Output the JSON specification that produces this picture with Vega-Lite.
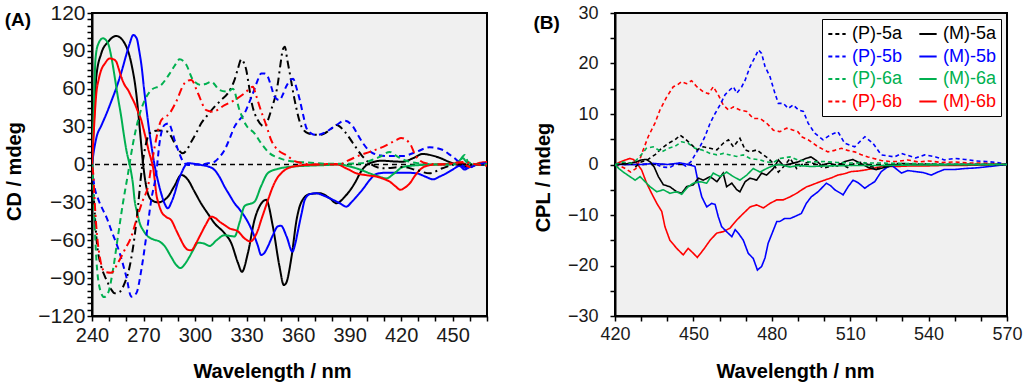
{
"$schema": "https://vega.github.io/schema/vega-lite/v6.json",
"background": "white",
"padding": {"left": 3, "top": 1, "right": 0, "bottom": 0},
"spacing": 43,
"config": {
  "font": "Liberation Sans",
  "view": {"fill": "#f0f0f0", "stroke": "black", "strokeWidth": 2},
  "axis": {"labelFont": "Liberation Sans", "labelFontSize": 19, "labelColor": "#1a1a1a", "titleFont": "Liberation Sans", "titleFontSize": 20, "titleFontWeight": "bold", "titleColor": "black", "domainColor": "black", "domainWidth": 2, "tickColor": "black", "tickWidth": 1.5, "tickSize": 5, "grid": false, "labelFlush": false, "labelOverlap": false},
  "axisY": {"labelOverlap": false},
  "axisQuantitative": {"labelOverlap": false},
  "legend": {"labelFont": "Liberation Sans"}
},
"datasets": {
"cd": [
{"s":"(M)-5a","x":240,"y":0},{"s":"(M)-5a","x":241,"y":30},{"s":"(M)-5a","x":242.5,"y":69.5},{"s":"(M)-5a","x":245.4,"y":88},{"s":"(M)-5a","x":249.3,"y":97},{"s":"(M)-5a","x":254.1,"y":101.8},{"s":"(M)-5a","x":259,"y":96},{"s":"(M)-5a","x":262.9,"y":80},{"s":"(M)-5a","x":265.8,"y":56},{"s":"(M)-5a","x":267.7,"y":30},{"s":"(M)-5a","x":269.7,"y":1},{"s":"(M)-5a","x":271.6,"y":-17.6},{"s":"(M)-5a","x":274.5,"y":-28},{"s":"(M)-5a","x":278.4,"y":-30},{"s":"(M)-5a","x":284.2,"y":-25.5},{"s":"(M)-5a","x":288,"y":-17},{"s":"(M)-5a","x":292,"y":-8.3},{"s":"(M)-5a","x":295.8,"y":-12},{"s":"(M)-5a","x":299.5,"y":-21},{"s":"(M)-5a","x":303.6,"y":-31},{"s":"(M)-5a","x":307.5,"y":-39},{"s":"(M)-5a","x":311.4,"y":-46.6},{"s":"(M)-5a","x":317.2,"y":-54.5},{"s":"(M)-5a","x":321,"y":-62},{"s":"(M)-5a","x":325,"y":-78},{"s":"(M)-5a","x":327.3,"y":-85},{"s":"(M)-5a","x":330.8,"y":-70},{"s":"(M)-5a","x":334.6,"y":-44},{"s":"(M)-5a","x":338.5,"y":-31},{"s":"(M)-5a","x":341.4,"y":-28},{"s":"(M)-5a","x":345.3,"y":-49},{"s":"(M)-5a","x":349.2,"y":-81},{"s":"(M)-5a","x":351.7,"y":-95.5},{"s":"(M)-5a","x":353,"y":-94},{"s":"(M)-5a","x":356.2,"y":-73},{"s":"(M)-5a","x":359.1,"y":-44},{"s":"(M)-5a","x":362,"y":-29.5},{"s":"(M)-5a","x":366.8,"y":-23.4},{"s":"(M)-5a","x":372.6,"y":-22.8},{"s":"(M)-5a","x":378.5,"y":-26.8},{"s":"(M)-5a","x":382.3,"y":-30.7},{"s":"(M)-5a","x":387.2,"y":-25.5},{"s":"(M)-5a","x":394,"y":-12.3},{"s":"(M)-5a","x":396,"y":-7},{"s":"(M)-5a","x":401.7,"y":1},{"s":"(M)-5a","x":409,"y":3},{"s":"(M)-5a","x":415,"y":2.5},{"s":"(M)-5a","x":421,"y":2.2},{"s":"(M)-5a","x":427,"y":5},{"s":"(M)-5a","x":432.5,"y":8.3},{"s":"(M)-5a","x":440.5,"y":6.2},{"s":"(M)-5a","x":450,"y":1},{"s":"(M)-5a","x":458,"y":-1.7},{"s":"(M)-5a","x":464,"y":0},{"s":"(M)-5a","x":470,"y":0},
{"s":"(M)-5b","x":240,"y":0},{"s":"(M)-5b","x":241,"y":10},{"s":"(M)-5b","x":242.7,"y":22},{"s":"(M)-5b","x":245.5,"y":31},{"s":"(M)-5b","x":248.5,"y":40.5},{"s":"(M)-5b","x":251.5,"y":51},{"s":"(M)-5b","x":254.4,"y":61.6},{"s":"(M)-5b","x":257.3,"y":74},{"s":"(M)-5b","x":260.2,"y":88},{"s":"(M)-5b","x":262,"y":96},{"s":"(M)-5b","x":264,"y":102.6},{"s":"(M)-5b","x":266,"y":100},{"s":"(M)-5b","x":267.5,"y":90},{"s":"(M)-5b","x":268.9,"y":77.5},{"s":"(M)-5b","x":270.3,"y":60},{"s":"(M)-5b","x":271.8,"y":43},{"s":"(M)-5b","x":273.2,"y":28},{"s":"(M)-5b","x":274.7,"y":14},{"s":"(M)-5b","x":276.6,"y":-1.7},{"s":"(M)-5b","x":278.4,"y":-13},{"s":"(M)-5b","x":280.3,"y":-23},{"s":"(M)-5b","x":282.3,"y":-31},{"s":"(M)-5b","x":284.2,"y":-34.7},{"s":"(M)-5b","x":286.2,"y":-30},{"s":"(M)-5b","x":288.1,"y":-23},{"s":"(M)-5b","x":290,"y":-14},{"s":"(M)-5b","x":292,"y":-7},{"s":"(M)-5b","x":295.8,"y":1},{"s":"(M)-5b","x":299.7,"y":0.5},{"s":"(M)-5b","x":303.6,"y":-0.4},{"s":"(M)-5b","x":307.5,"y":-1.5},{"s":"(M)-5b","x":311.4,"y":-4.4},{"s":"(M)-5b","x":314.3,"y":-10},{"s":"(M)-5b","x":317.2,"y":-17.6},{"s":"(M)-5b","x":320,"y":-24},{"s":"(M)-5b","x":323,"y":-30.7},{"s":"(M)-5b","x":325.9,"y":-35.5},{"s":"(M)-5b","x":328.8,"y":-41},{"s":"(M)-5b","x":331.7,"y":-48},{"s":"(M)-5b","x":334.6,"y":-57},{"s":"(M)-5b","x":336.5,"y":-64},{"s":"(M)-5b","x":338.5,"y":-71.7},{"s":"(M)-5b","x":340.4,"y":-70},{"s":"(M)-5b","x":342.4,"y":-65},{"s":"(M)-5b","x":345.3,"y":-56},{"s":"(M)-5b","x":348.2,"y":-49},{"s":"(M)-5b","x":350,"y":-48.5},{"s":"(M)-5b","x":353.3,"y":-57},{"s":"(M)-5b","x":356.7,"y":-69},{"s":"(M)-5b","x":358.3,"y":-63},{"s":"(M)-5b","x":360,"y":-52},{"s":"(M)-5b","x":362,"y":-39},{"s":"(M)-5b","x":363.9,"y":-28},{"s":"(M)-5b","x":366.8,"y":-23.5},{"s":"(M)-5b","x":370.7,"y":-22.8},{"s":"(M)-5b","x":374.6,"y":-24.5},{"s":"(M)-5b","x":378.5,"y":-26.8},{"s":"(M)-5b","x":384.3,"y":-30.7},{"s":"(M)-5b","x":388.1,"y":-33.4},{"s":"(M)-5b","x":391,"y":-30},{"s":"(M)-5b","x":394,"y":-25.5},{"s":"(M)-5b","x":398,"y":-19},{"s":"(M)-5b","x":401.7,"y":-12.3},{"s":"(M)-5b","x":405.6,"y":-7.5},{"s":"(M)-5b","x":411,"y":-6.5},{"s":"(M)-5b","x":417.3,"y":-6.5},{"s":"(M)-5b","x":423,"y":-6.5},{"s":"(M)-5b","x":429,"y":-7},{"s":"(M)-5b","x":434,"y":-9.5},{"s":"(M)-5b","x":438.6,"y":-11.7},{"s":"(M)-5b","x":442.5,"y":-9.5},{"s":"(M)-5b","x":446.3,"y":-7},{"s":"(M)-5b","x":450,"y":-4},{"s":"(M)-5b","x":454,"y":-1.2},{"s":"(M)-5b","x":457,"y":-4},{"s":"(M)-5b","x":460,"y":-2},{"s":"(M)-5b","x":465,"y":0},{"s":"(M)-5b","x":470,"y":0},
{"s":"(M)-6a","x":240,"y":0},{"s":"(M)-6a","x":241,"y":40},{"s":"(M)-6a","x":242,"y":83},{"s":"(M)-6a","x":243.5,"y":95},{"s":"(M)-6a","x":246.4,"y":100},{"s":"(M)-6a","x":249.3,"y":96},{"s":"(M)-6a","x":251.3,"y":85},{"s":"(M)-6a","x":253.2,"y":69.5},{"s":"(M)-6a","x":255,"y":54},{"s":"(M)-6a","x":257,"y":38},{"s":"(M)-6a","x":258.5,"y":24},{"s":"(M)-6a","x":260,"y":11.5},{"s":"(M)-6a","x":262.5,"y":-4},{"s":"(M)-6a","x":263.8,"y":-15},{"s":"(M)-6a","x":264.8,"y":-28},{"s":"(M)-6a","x":266.3,"y":-38},{"s":"(M)-6a","x":267.7,"y":-46},{"s":"(M)-6a","x":270,"y":-52.5},{"s":"(M)-6a","x":272.6,"y":-57},{"s":"(M)-6a","x":276,"y":-59.5},{"s":"(M)-6a","x":279.3,"y":-61},{"s":"(M)-6a","x":282.5,"y":-65},{"s":"(M)-6a","x":286,"y":-73},{"s":"(M)-6a","x":289,"y":-79.5},{"s":"(M)-6a","x":291.6,"y":-82},{"s":"(M)-6a","x":294,"y":-79},{"s":"(M)-6a","x":296.8,"y":-73},{"s":"(M)-6a","x":299.2,"y":-67},{"s":"(M)-6a","x":301.7,"y":-62},{"s":"(M)-6a","x":305,"y":-62.5},{"s":"(M)-6a","x":308.5,"y":-64.5},{"s":"(M)-6a","x":312.5,"y":-60},{"s":"(M)-6a","x":317.2,"y":-56},{"s":"(M)-6a","x":320,"y":-56.5},{"s":"(M)-6a","x":323,"y":-57},{"s":"(M)-6a","x":325.9,"y":-46},{"s":"(M)-6a","x":328.8,"y":-33},{"s":"(M)-6a","x":334.6,"y":-29.5},{"s":"(M)-6a","x":338.5,"y":-17},{"s":"(M)-6a","x":342.4,"y":-6.8},{"s":"(M)-6a","x":348,"y":-3.5},{"s":"(M)-6a","x":354,"y":-2},{"s":"(M)-6a","x":365,"y":-1},{"s":"(M)-6a","x":375,"y":-0.5},{"s":"(M)-6a","x":384,"y":0},{"s":"(M)-6a","x":390,"y":-1.5},{"s":"(M)-6a","x":396,"y":-4},{"s":"(M)-6a","x":401.7,"y":-7},{"s":"(M)-6a","x":406,"y":-9},{"s":"(M)-6a","x":411.4,"y":-11},{"s":"(M)-6a","x":416,"y":-7},{"s":"(M)-6a","x":421,"y":-2},{"s":"(M)-6a","x":430,"y":-0.5},{"s":"(M)-6a","x":440,"y":0},{"s":"(M)-6a","x":450,"y":0},{"s":"(M)-6a","x":453,"y":2},{"s":"(M)-6a","x":456,"y":5},{"s":"(M)-6a","x":458,"y":2},{"s":"(M)-6a","x":462,"y":0},{"s":"(M)-6a","x":470,"y":0},
{"s":"(M)-6b","x":240,"y":0},{"s":"(M)-6b","x":241,"y":25},{"s":"(M)-6b","x":242.5,"y":56},{"s":"(M)-6b","x":244,"y":68},{"s":"(M)-6b","x":245.4,"y":75},{"s":"(M)-6b","x":247.5,"y":80},{"s":"(M)-6b","x":250.3,"y":84},{"s":"(M)-6b","x":252.2,"y":83.5},{"s":"(M)-6b","x":254.1,"y":81.5},{"s":"(M)-6b","x":255.5,"y":76},{"s":"(M)-6b","x":257,"y":69.5},{"s":"(M)-6b","x":259,"y":63},{"s":"(M)-6b","x":261,"y":59},{"s":"(M)-6b","x":263,"y":53.5},{"s":"(M)-6b","x":264.8,"y":48.5},{"s":"(M)-6b","x":266.7,"y":42},{"s":"(M)-6b","x":268.7,"y":35},{"s":"(M)-6b","x":270.1,"y":27.5},{"s":"(M)-6b","x":271.6,"y":19.4},{"s":"(M)-6b","x":273,"y":11},{"s":"(M)-6b","x":274.5,"y":3.6},{"s":"(M)-6b","x":275.5,"y":-1.7},{"s":"(M)-6b","x":276.5,"y":-12},{"s":"(M)-6b","x":277.4,"y":-23},{"s":"(M)-6b","x":278.8,"y":-31},{"s":"(M)-6b","x":280.3,"y":-37},{"s":"(M)-6b","x":283.2,"y":-41.5},{"s":"(M)-6b","x":286.1,"y":-44},{"s":"(M)-6b","x":289,"y":-52},{"s":"(M)-6b","x":291.5,"y":-59},{"s":"(M)-6b","x":293.9,"y":-65},{"s":"(M)-6b","x":295.8,"y":-67.5},{"s":"(M)-6b","x":297.8,"y":-68},{"s":"(M)-6b","x":300.7,"y":-62},{"s":"(M)-6b","x":303.6,"y":-54.5},{"s":"(M)-6b","x":306.5,"y":-47},{"s":"(M)-6b","x":309.4,"y":-41.3},{"s":"(M)-6b","x":311.9,"y":-42.5},{"s":"(M)-6b","x":314.3,"y":-45.3},{"s":"(M)-6b","x":317.2,"y":-48},{"s":"(M)-6b","x":320,"y":-50.5},{"s":"(M)-6b","x":325,"y":-53},{"s":"(M)-6b","x":328.8,"y":-58.5},{"s":"(M)-6b","x":332.3,"y":-61},{"s":"(M)-6b","x":334.5,"y":-58},{"s":"(M)-6b","x":336.6,"y":-52},{"s":"(M)-6b","x":338.5,"y":-44},{"s":"(M)-6b","x":340.5,"y":-36},{"s":"(M)-6b","x":343,"y":-26},{"s":"(M)-6b","x":345.3,"y":-17.6},{"s":"(M)-6b","x":347.7,"y":-11},{"s":"(M)-6b","x":350.1,"y":-7},{"s":"(M)-6b","x":354,"y":-3},{"s":"(M)-6b","x":360,"y":-1},{"s":"(M)-6b","x":370,"y":0},{"s":"(M)-6b","x":382,"y":0.4},{"s":"(M)-6b","x":388,"y":-3},{"s":"(M)-6b","x":394,"y":-7},{"s":"(M)-6b","x":400,"y":-8.5},{"s":"(M)-6b","x":405.6,"y":-9.6},{"s":"(M)-6b","x":410,"y":-11.5},{"s":"(M)-6b","x":413.4,"y":-13.6},{"s":"(M)-6b","x":416.5,"y":-17},{"s":"(M)-6b","x":419.6,"y":-20},{"s":"(M)-6b","x":422,"y":-18.5},{"s":"(M)-6b","x":425,"y":-15},{"s":"(M)-6b","x":428,"y":-9},{"s":"(M)-6b","x":430.8,"y":-4.4},{"s":"(M)-6b","x":435,"y":-1},{"s":"(M)-6b","x":440.5,"y":0},{"s":"(M)-6b","x":448,"y":0.5},{"s":"(M)-6b","x":456,"y":1},{"s":"(M)-6b","x":460,"y":-2},{"s":"(M)-6b","x":465,"y":1},{"s":"(M)-6b","x":470,"y":2},
{"s":"(P)-5a","x":240,"y":0},{"s":"(P)-5a","x":241,"y":-25},{"s":"(P)-5a","x":242.5,"y":-57},{"s":"(P)-5a","x":245.4,"y":-81},{"s":"(P)-5a","x":247.3,"y":-88},{"s":"(P)-5a","x":249.3,"y":-94},{"s":"(P)-5a","x":251.2,"y":-99},{"s":"(P)-5a","x":253.2,"y":-102},{"s":"(P)-5a","x":256,"y":-101},{"s":"(P)-5a","x":259,"y":-94},{"s":"(P)-5a","x":261.9,"y":-81},{"s":"(P)-5a","x":264.8,"y":-57},{"s":"(P)-5a","x":266.8,"y":-33},{"s":"(P)-5a","x":268.7,"y":-7},{"s":"(P)-5a","x":270.7,"y":11.5},{"s":"(P)-5a","x":273.6,"y":24.7},{"s":"(P)-5a","x":278.4,"y":27},{"s":"(P)-5a","x":284.2,"y":26},{"s":"(P)-5a","x":286.2,"y":22},{"s":"(P)-5a","x":288.1,"y":16.8},{"s":"(P)-5a","x":292.9,"y":8.9},{"s":"(P)-5a","x":295.4,"y":12},{"s":"(P)-5a","x":297.8,"y":18},{"s":"(P)-5a","x":300.7,"y":25},{"s":"(P)-5a","x":303.6,"y":32.6},{"s":"(P)-5a","x":307.5,"y":39.5},{"s":"(P)-5a","x":311.4,"y":45.8},{"s":"(P)-5a","x":315.2,"y":51},{"s":"(P)-5a","x":319.1,"y":56.4},{"s":"(P)-5a","x":323,"y":67},{"s":"(P)-5a","x":325,"y":76},{"s":"(P)-5a","x":326.9,"y":83.3},{"s":"(P)-5a","x":328.5,"y":80.5},{"s":"(P)-5a","x":329.8,"y":75},{"s":"(P)-5a","x":331.3,"y":63},{"s":"(P)-5a","x":332.7,"y":51},{"s":"(P)-5a","x":336.6,"y":35},{"s":"(P)-5a","x":340.5,"y":30},{"s":"(P)-5a","x":342.4,"y":35},{"s":"(P)-5a","x":344.3,"y":43},{"s":"(P)-5a","x":348.2,"y":64},{"s":"(P)-5a","x":349.8,"y":80},{"s":"(P)-5a","x":351.1,"y":91},{"s":"(P)-5a","x":352.3,"y":93.3},{"s":"(P)-5a","x":353.7,"y":83},{"s":"(P)-5a","x":355.2,"y":72},{"s":"(P)-5a","x":358,"y":51},{"s":"(P)-5a","x":362,"y":30},{"s":"(P)-5a","x":365.8,"y":24.7},{"s":"(P)-5a","x":372.6,"y":23.4},{"s":"(P)-5a","x":378.5,"y":27.3},{"s":"(P)-5a","x":382.3,"y":31.3},{"s":"(P)-5a","x":387.2,"y":26},{"s":"(P)-5a","x":392,"y":16.8},{"s":"(P)-5a","x":396.9,"y":7.5},{"s":"(P)-5a","x":401.7,"y":1},{"s":"(P)-5a","x":409.5,"y":-3},{"s":"(P)-5a","x":421,"y":-2},{"s":"(P)-5a","x":428.8,"y":-4.4},{"s":"(P)-5a","x":436.6,"y":-7},{"s":"(P)-5a","x":444,"y":-3},{"s":"(P)-5a","x":452,"y":0},{"s":"(P)-5a","x":460,"y":0},{"s":"(P)-5a","x":470,"y":0},
{"s":"(P)-5b","x":240,"y":-3},{"s":"(P)-5b","x":241.5,"y":-18},{"s":"(P)-5b","x":243.5,"y":-27},{"s":"(P)-5b","x":246,"y":-35},{"s":"(P)-5b","x":248.5,"y":-42},{"s":"(P)-5b","x":251.2,"y":-52},{"s":"(P)-5b","x":256.1,"y":-70},{"s":"(P)-5b","x":260,"y":-89},{"s":"(P)-5b","x":262.9,"y":-104.7},{"s":"(P)-5b","x":265.8,"y":-102},{"s":"(P)-5b","x":268.7,"y":-83.6},{"s":"(P)-5b","x":271.6,"y":-57},{"s":"(P)-5b","x":274.5,"y":-28},{"s":"(P)-5b","x":277.4,"y":-7},{"s":"(P)-5b","x":279.3,"y":16.8},{"s":"(P)-5b","x":282.2,"y":31.3},{"s":"(P)-5b","x":284.6,"y":32.6},{"s":"(P)-5b","x":286.5,"y":27},{"s":"(P)-5b","x":288.1,"y":19.4},{"s":"(P)-5b","x":290,"y":12},{"s":"(P)-5b","x":292,"y":5},{"s":"(P)-5b","x":295.8,"y":-0.4},{"s":"(P)-5b","x":299.7,"y":0},{"s":"(P)-5b","x":303.6,"y":0},{"s":"(P)-5b","x":307.5,"y":1},{"s":"(P)-5b","x":311.4,"y":2.2},{"s":"(P)-5b","x":314.3,"y":6},{"s":"(P)-5b","x":317.2,"y":11.5},{"s":"(P)-5b","x":320,"y":20},{"s":"(P)-5b","x":323,"y":30},{"s":"(P)-5b","x":325.9,"y":35.5},{"s":"(P)-5b","x":328.8,"y":40.5},{"s":"(P)-5b","x":331.2,"y":48},{"s":"(P)-5b","x":333.7,"y":56.4},{"s":"(P)-5b","x":336,"y":65},{"s":"(P)-5b","x":338.5,"y":72},{"s":"(P)-5b","x":340.5,"y":72},{"s":"(P)-5b","x":342.4,"y":69.5},{"s":"(P)-5b","x":344.3,"y":62},{"s":"(P)-5b","x":346.3,"y":53.7},{"s":"(P)-5b","x":349.2,"y":51},{"s":"(P)-5b","x":351,"y":55},{"s":"(P)-5b","x":353,"y":61.6},{"s":"(P)-5b","x":355,"y":66},{"s":"(P)-5b","x":357.1,"y":68},{"s":"(P)-5b","x":359,"y":61},{"s":"(P)-5b","x":361,"y":51},{"s":"(P)-5b","x":363,"y":39},{"s":"(P)-5b","x":364.9,"y":28.7},{"s":"(P)-5b","x":367.8,"y":24.5},{"s":"(P)-5b","x":370.7,"y":23.4},{"s":"(P)-5b","x":376.5,"y":26},{"s":"(P)-5b","x":382.3,"y":31.3},{"s":"(P)-5b","x":387.2,"y":34.7},{"s":"(P)-5b","x":392,"y":30},{"s":"(P)-5b","x":395,"y":23},{"s":"(P)-5b","x":397.8,"y":16.8},{"s":"(P)-5b","x":403.6,"y":8.9},{"s":"(P)-5b","x":411.4,"y":6.7},{"s":"(P)-5b","x":421,"y":6.7},{"s":"(P)-5b","x":428.8,"y":10},{"s":"(P)-5b","x":436.6,"y":13.6},{"s":"(P)-5b","x":444.4,"y":11.5},{"s":"(P)-5b","x":448,"y":8},{"s":"(P)-5b","x":452,"y":4},{"s":"(P)-5b","x":455,"y":0},{"s":"(P)-5b","x":458,"y":-3},{"s":"(P)-5b","x":461,"y":-2},{"s":"(P)-5b","x":464,"y":0},{"s":"(P)-5b","x":470,"y":1},
{"s":"(P)-6a","x":240,"y":0},{"s":"(P)-6a","x":240.8,"y":-20},{"s":"(P)-6a","x":241.6,"y":-49},{"s":"(P)-6a","x":243,"y":-83.6},{"s":"(P)-6a","x":245.4,"y":-102},{"s":"(P)-6a","x":247,"y":-105},{"s":"(P)-6a","x":249.3,"y":-102},{"s":"(P)-6a","x":252.2,"y":-83.6},{"s":"(P)-6a","x":255.1,"y":-57},{"s":"(P)-6a","x":258,"y":-30.7},{"s":"(P)-6a","x":261,"y":-7},{"s":"(P)-6a","x":263.9,"y":16.8},{"s":"(P)-6a","x":266.8,"y":35},{"s":"(P)-6a","x":268.7,"y":44},{"s":"(P)-6a","x":270.7,"y":51},{"s":"(P)-6a","x":274.5,"y":59},{"s":"(P)-6a","x":280.3,"y":63},{"s":"(P)-6a","x":285.2,"y":72},{"s":"(P)-6a","x":288,"y":78},{"s":"(P)-6a","x":291,"y":83.3},{"s":"(P)-6a","x":294.9,"y":79},{"s":"(P)-6a","x":298.8,"y":67},{"s":"(P)-6a","x":303.6,"y":63},{"s":"(P)-6a","x":306.5,"y":64},{"s":"(P)-6a","x":309.4,"y":65.6},{"s":"(P)-6a","x":314.3,"y":59},{"s":"(P)-6a","x":319.1,"y":57.7},{"s":"(P)-6a","x":322,"y":60},{"s":"(P)-6a","x":325.9,"y":43},{"s":"(P)-6a","x":329.8,"y":31},{"s":"(P)-6a","x":334.6,"y":24.7},{"s":"(P)-6a","x":338.5,"y":16.8},{"s":"(P)-6a","x":343.4,"y":8.9},{"s":"(P)-6a","x":349.2,"y":5},{"s":"(P)-6a","x":354,"y":3},{"s":"(P)-6a","x":366,"y":1.5},{"s":"(P)-6a","x":380,"y":0.5},{"s":"(P)-6a","x":397,"y":1},{"s":"(P)-6a","x":402,"y":3},{"s":"(P)-6a","x":407.5,"y":6},{"s":"(P)-6a","x":413.4,"y":10},{"s":"(P)-6a","x":417,"y":7},{"s":"(P)-6a","x":421,"y":4},{"s":"(P)-6a","x":430,"y":1},{"s":"(P)-6a","x":440,"y":0},{"s":"(P)-6a","x":450,"y":0},{"s":"(P)-6a","x":454,"y":3},{"s":"(P)-6a","x":457,"y":7.5},{"s":"(P)-6a","x":459,"y":2},{"s":"(P)-6a","x":464,"y":0},{"s":"(P)-6a","x":470,"y":0},
{"s":"(P)-6b","x":240,"y":-2},{"s":"(P)-6b","x":240.7,"y":-7},{"s":"(P)-6b","x":241.5,"y":-28},{"s":"(P)-6b","x":242.5,"y":-49},{"s":"(P)-6b","x":244.5,"y":-73},{"s":"(P)-6b","x":247.4,"y":-85},{"s":"(P)-6b","x":251.2,"y":-85.7},{"s":"(P)-6b","x":255.1,"y":-78},{"s":"(P)-6b","x":259,"y":-67.7},{"s":"(P)-6b","x":262.9,"y":-57},{"s":"(P)-6b","x":265.8,"y":-44},{"s":"(P)-6b","x":269.7,"y":-28},{"s":"(P)-6b","x":272.6,"y":-17.6},{"s":"(P)-6b","x":274.5,"y":-1.7},{"s":"(P)-6b","x":276.5,"y":14},{"s":"(P)-6b","x":280.3,"y":35},{"s":"(P)-6b","x":285.2,"y":40.5},{"s":"(P)-6b","x":289,"y":49.7},{"s":"(P)-6b","x":293.9,"y":64.3},{"s":"(P)-6b","x":297.8,"y":67},{"s":"(P)-6b","x":301.7,"y":56.4},{"s":"(P)-6b","x":306.5,"y":43},{"s":"(P)-6b","x":310.4,"y":41.8},{"s":"(P)-6b","x":317.2,"y":47},{"s":"(P)-6b","x":323,"y":51},{"s":"(P)-6b","x":328.8,"y":56.4},{"s":"(P)-6b","x":333.7,"y":61.6},{"s":"(P)-6b","x":335.5,"y":55},{"s":"(P)-6b","x":337.6,"y":45.8},{"s":"(P)-6b","x":341.4,"y":31.3},{"s":"(P)-6b","x":344.3,"y":19.4},{"s":"(P)-6b","x":348.2,"y":11.5},{"s":"(P)-6b","x":353,"y":7.5},{"s":"(P)-6b","x":359,"y":2.2},{"s":"(P)-6b","x":370,"y":0},{"s":"(P)-6b","x":384,"y":0},{"s":"(P)-6b","x":389,"y":3},{"s":"(P)-6b","x":394,"y":6.2},{"s":"(P)-6b","x":401.7,"y":10},{"s":"(P)-6b","x":409.5,"y":14},{"s":"(P)-6b","x":417.3,"y":19.4},{"s":"(P)-6b","x":420,"y":21},{"s":"(P)-6b","x":425,"y":16.8},{"s":"(P)-6b","x":428.8,"y":6.2},{"s":"(P)-6b","x":434.5,"y":1},{"s":"(P)-6b","x":444,"y":0},{"s":"(P)-6b","x":456,"y":2},{"s":"(P)-6b","x":464,"y":0},{"s":"(P)-6b","x":470,"y":-1}
],
"cpl": [
{"s":"(P)-6b","x":420,"y":0},{"s":"(P)-6b","x":422,"y":-0.3},{"s":"(P)-6b","x":424,"y":-0.8},{"s":"(P)-6b","x":426,"y":-1.5},{"s":"(P)-6b","x":428,"y":-0.8},{"s":"(P)-6b","x":429.5,"y":1},{"s":"(P)-6b","x":430.8,"y":2.9},{"s":"(P)-6b","x":432.7,"y":5.5},{"s":"(P)-6b","x":435.3,"y":8.2},{"s":"(P)-6b","x":437.2,"y":10.8},{"s":"(P)-6b","x":439.8,"y":13.4},{"s":"(P)-6b","x":442.3,"y":15.4},{"s":"(P)-6b","x":444,"y":15.8},{"s":"(P)-6b","x":445.5,"y":16.4},{"s":"(P)-6b","x":447.4,"y":16},{"s":"(P)-6b","x":449.3,"y":16.6},{"s":"(P)-6b","x":451.3,"y":15.4},{"s":"(P)-6b","x":453.8,"y":14.4},{"s":"(P)-6b","x":455.8,"y":14},{"s":"(P)-6b","x":457.6,"y":15.4},{"s":"(P)-6b","x":459.5,"y":13.8},{"s":"(P)-6b","x":461.4,"y":11.8},{"s":"(P)-6b","x":463.4,"y":10.8},{"s":"(P)-6b","x":465.3,"y":11.4},{"s":"(P)-6b","x":467.8,"y":10.8},{"s":"(P)-6b","x":470.4,"y":10.5},{"s":"(P)-6b","x":472.9,"y":9.1},{"s":"(P)-6b","x":475.5,"y":9.1},{"s":"(P)-6b","x":478,"y":8.2},{"s":"(P)-6b","x":480.6,"y":6.8},{"s":"(P)-6b","x":483.1,"y":6.5},{"s":"(P)-6b","x":485.7,"y":7.2},{"s":"(P)-6b","x":488.2,"y":6.8},{"s":"(P)-6b","x":490,"y":6.5},{"s":"(P)-6b","x":491.4,"y":5.5},{"s":"(P)-6b","x":493.9,"y":4.9},{"s":"(P)-6b","x":497.7,"y":3.5},{"s":"(P)-6b","x":501.5,"y":2.5},{"s":"(P)-6b","x":504,"y":2.8},{"s":"(P)-6b","x":506.6,"y":3.2},{"s":"(P)-6b","x":509,"y":2.8},{"s":"(P)-6b","x":511.7,"y":2.5},{"s":"(P)-6b","x":514,"y":2},{"s":"(P)-6b","x":516.8,"y":1.5},{"s":"(P)-6b","x":519,"y":1.2},{"s":"(P)-6b","x":521.9,"y":0.8},{"s":"(P)-6b","x":525,"y":0.6},{"s":"(P)-6b","x":528,"y":0.6},{"s":"(P)-6b","x":532,"y":0.9},{"s":"(P)-6b","x":536,"y":0.5},{"s":"(P)-6b","x":540,"y":0.7},{"s":"(P)-6b","x":545,"y":0.4},{"s":"(P)-6b","x":550,"y":0.5},{"s":"(P)-6b","x":555,"y":0.3},{"s":"(P)-6b","x":560,"y":0.3},{"s":"(P)-6b","x":565,"y":0.2},{"s":"(P)-6b","x":570,"y":0},
{"s":"(M)-6b","x":420,"y":0},{"s":"(M)-6b","x":422,"y":0.5},{"s":"(M)-6b","x":424,"y":0.9},{"s":"(M)-6b","x":425.7,"y":1.2},{"s":"(M)-6b","x":427,"y":1},{"s":"(M)-6b","x":428,"y":0.5},{"s":"(M)-6b","x":430.2,"y":-1.1},{"s":"(M)-6b","x":432.1,"y":-3.7},{"s":"(M)-6b","x":434,"y":-5.7},{"s":"(M)-6b","x":436,"y":-7.7},{"s":"(M)-6b","x":437.9,"y":-9.3},{"s":"(M)-6b","x":439.1,"y":-12.3},{"s":"(M)-6b","x":441,"y":-15},{"s":"(M)-6b","x":443.6,"y":-16.6},{"s":"(M)-6b","x":446.1,"y":-17.9},{"s":"(M)-6b","x":448,"y":-16.6},{"s":"(M)-6b","x":450,"y":-17.6},{"s":"(M)-6b","x":451.5,"y":-18.4},{"s":"(M)-6b","x":453.8,"y":-16.9},{"s":"(M)-6b","x":456.4,"y":-15},{"s":"(M)-6b","x":458.9,"y":-13.6},{"s":"(M)-6b","x":461.4,"y":-13.3},{"s":"(M)-6b","x":464,"y":-12.6},{"s":"(M)-6b","x":466.6,"y":-11},{"s":"(M)-6b","x":469.1,"y":-9.7},{"s":"(M)-6b","x":471.7,"y":-8.4},{"s":"(M)-6b","x":474.2,"y":-8},{"s":"(M)-6b","x":476.8,"y":-8.6},{"s":"(M)-6b","x":479.3,"y":-7.7},{"s":"(M)-6b","x":481.9,"y":-7},{"s":"(M)-6b","x":484.4,"y":-7},{"s":"(M)-6b","x":487,"y":-6.4},{"s":"(M)-6b","x":489.5,"y":-5.7},{"s":"(M)-6b","x":491.5,"y":-5},{"s":"(M)-6b","x":493.4,"y":-4.4},{"s":"(M)-6b","x":495.1,"y":-4.1},{"s":"(M)-6b","x":497.5,"y":-3.6},{"s":"(M)-6b","x":500.2,"y":-3.1},{"s":"(M)-6b","x":503,"y":-2.6},{"s":"(M)-6b","x":505.3,"y":-2.1},{"s":"(M)-6b","x":508,"y":-1.8},{"s":"(M)-6b","x":510.4,"y":-1.4},{"s":"(M)-6b","x":513,"y":-1.3},{"s":"(M)-6b","x":515.6,"y":-1.1},{"s":"(M)-6b","x":518.5,"y":-0.8},{"s":"(M)-6b","x":521.9,"y":-0.4},{"s":"(M)-6b","x":525,"y":-0.4},{"s":"(M)-6b","x":528,"y":-0.4},{"s":"(M)-6b","x":532,"y":-0.3},{"s":"(M)-6b","x":538,"y":-0.3},{"s":"(M)-6b","x":545,"y":-0.2},{"s":"(M)-6b","x":552,"y":-0.2},{"s":"(M)-6b","x":560,"y":-0.1},{"s":"(M)-6b","x":570,"y":0},
{"s":"(P)-5b","x":420,"y":0},{"s":"(P)-5b","x":425,"y":0},{"s":"(P)-5b","x":430,"y":0},{"s":"(P)-5b","x":435,"y":0.2},{"s":"(P)-5b","x":438,"y":-0.5},{"s":"(P)-5b","x":441,"y":-0.6},{"s":"(P)-5b","x":443,"y":0},{"s":"(P)-5b","x":445,"y":0.3},{"s":"(P)-5b","x":447,"y":-0.3},{"s":"(P)-5b","x":449,"y":0.5},{"s":"(P)-5b","x":450.6,"y":1.9},{"s":"(P)-5b","x":452.5,"y":3.5},{"s":"(P)-5b","x":454.4,"y":5.5},{"s":"(P)-5b","x":456.4,"y":8.2},{"s":"(P)-5b","x":458.3,"y":10.1},{"s":"(P)-5b","x":460.2,"y":11.8},{"s":"(P)-5b","x":462.1,"y":13.8},{"s":"(P)-5b","x":464,"y":14.8},{"s":"(P)-5b","x":465.3,"y":15.4},{"s":"(P)-5b","x":466.6,"y":14.1},{"s":"(P)-5b","x":468.5,"y":15.4},{"s":"(P)-5b","x":469.8,"y":16.7},{"s":"(P)-5b","x":471.7,"y":19.4},{"s":"(P)-5b","x":473.6,"y":21.3},{"s":"(P)-5b","x":474.9,"y":22.7},{"s":"(P)-5b","x":476.1,"y":22},{"s":"(P)-5b","x":477.4,"y":19.4},{"s":"(P)-5b","x":479.3,"y":17.4},{"s":"(P)-5b","x":481.2,"y":14.1},{"s":"(P)-5b","x":482.5,"y":12.1},{"s":"(P)-5b","x":484.4,"y":12.1},{"s":"(P)-5b","x":486.3,"y":11.1},{"s":"(P)-5b","x":488.2,"y":11.8},{"s":"(P)-5b","x":490.2,"y":10.8},{"s":"(P)-5b","x":492.1,"y":10.5},{"s":"(P)-5b","x":493.9,"y":8.2},{"s":"(P)-5b","x":496.4,"y":6.2},{"s":"(P)-5b","x":499.6,"y":4.9},{"s":"(P)-5b","x":502.2,"y":5.8},{"s":"(P)-5b","x":505.3,"y":6.5},{"s":"(P)-5b","x":507.9,"y":4.2},{"s":"(P)-5b","x":511.7,"y":3.5},{"s":"(P)-5b","x":515.6,"y":5.5},{"s":"(P)-5b","x":518.7,"y":4.2},{"s":"(P)-5b","x":521.9,"y":1.9},{"s":"(P)-5b","x":527,"y":1.5},{"s":"(P)-5b","x":529.6,"y":2.2},{"s":"(P)-5b","x":535,"y":1.3},{"s":"(P)-5b","x":538.5,"y":1.9},{"s":"(P)-5b","x":542.7,"y":1.5},{"s":"(P)-5b","x":546,"y":0.9},{"s":"(P)-5b","x":550,"y":1.2},{"s":"(P)-5b","x":554,"y":1},{"s":"(P)-5b","x":558,"y":0.7},{"s":"(P)-5b","x":562,"y":0.6},{"s":"(P)-5b","x":566,"y":0.4},{"s":"(P)-5b","x":570,"y":0},
{"s":"(M)-5b","x":420,"y":0},{"s":"(M)-5b","x":425,"y":0},{"s":"(M)-5b","x":430,"y":0},{"s":"(M)-5b","x":435,"y":0.2},{"s":"(M)-5b","x":440,"y":0},{"s":"(M)-5b","x":445,"y":0.3},{"s":"(M)-5b","x":448,"y":0},{"s":"(M)-5b","x":450.6,"y":-0.4},{"s":"(M)-5b","x":451.9,"y":-3.7},{"s":"(M)-5b","x":453.2,"y":-6.4},{"s":"(M)-5b","x":455.1,"y":-8.4},{"s":"(M)-5b","x":457,"y":-7.7},{"s":"(M)-5b","x":458.3,"y":-7.9},{"s":"(M)-5b","x":459.5,"y":-10.3},{"s":"(M)-5b","x":460.8,"y":-12.3},{"s":"(M)-5b","x":462.7,"y":-13.3},{"s":"(M)-5b","x":464.7,"y":-14.3},{"s":"(M)-5b","x":466,"y":-12.9},{"s":"(M)-5b","x":467.2,"y":-13.6},{"s":"(M)-5b","x":469.1,"y":-15},{"s":"(M)-5b","x":471,"y":-17.6},{"s":"(M)-5b","x":472.9,"y":-18.6},{"s":"(M)-5b","x":474.5,"y":-20.9},{"s":"(M)-5b","x":476.1,"y":-20.2},{"s":"(M)-5b","x":477.4,"y":-18.5},{"s":"(M)-5b","x":478.6,"y":-15.6},{"s":"(M)-5b","x":480.6,"y":-13},{"s":"(M)-5b","x":481.9,"y":-11.3},{"s":"(M)-5b","x":483,"y":-11.3},{"s":"(M)-5b","x":484.9,"y":-10.7},{"s":"(M)-5b","x":487,"y":-10.7},{"s":"(M)-5b","x":488.8,"y":-10.3},{"s":"(M)-5b","x":491.3,"y":-9.7},{"s":"(M)-5b","x":493.2,"y":-7.7},{"s":"(M)-5b","x":495.1,"y":-6.4},{"s":"(M)-5b","x":497.7,"y":-5.4},{"s":"(M)-5b","x":500.9,"y":-3.7},{"s":"(M)-5b","x":502.5,"y":-4.2},{"s":"(M)-5b","x":504.1,"y":-5},{"s":"(M)-5b","x":507.3,"y":-6},{"s":"(M)-5b","x":509.2,"y":-4.4},{"s":"(M)-5b","x":511.1,"y":-3.1},{"s":"(M)-5b","x":513,"y":-3.6},{"s":"(M)-5b","x":515.6,"y":-4.7},{"s":"(M)-5b","x":517.5,"y":-4},{"s":"(M)-5b","x":519.4,"y":-3.4},{"s":"(M)-5b","x":521.9,"y":-1.4},{"s":"(M)-5b","x":524,"y":-0.6},{"s":"(M)-5b","x":526,"y":-0.2},{"s":"(M)-5b","x":529.6,"y":-1.7},{"s":"(M)-5b","x":532,"y":-1.2},{"s":"(M)-5b","x":535,"y":-1.4},{"s":"(M)-5b","x":538,"y":-1.6},{"s":"(M)-5b","x":541,"y":-2.1},{"s":"(M)-5b","x":543.5,"y":-1.5},{"s":"(M)-5b","x":546,"y":-1},{"s":"(M)-5b","x":550,"y":-1},{"s":"(M)-5b","x":553.8,"y":-0.8},{"s":"(M)-5b","x":557.5,"y":-0.7},{"s":"(M)-5b","x":561.5,"y":-0.5},{"s":"(M)-5b","x":565,"y":-0.3},{"s":"(M)-5b","x":570,"y":0},
{"s":"(P)-5a","x":420,"y":0},{"s":"(P)-5a","x":423,"y":0.3},{"s":"(P)-5a","x":426,"y":0.2},{"s":"(P)-5a","x":428,"y":-0.4},{"s":"(P)-5a","x":430,"y":0.5},{"s":"(P)-5a","x":432,"y":0.8},{"s":"(P)-5a","x":434,"y":1.5},{"s":"(P)-5a","x":435.5,"y":2},{"s":"(P)-5a","x":437.2,"y":2.9},{"s":"(P)-5a","x":440.4,"y":4.2},{"s":"(P)-5a","x":443,"y":4.9},{"s":"(P)-5a","x":444.9,"y":5.8},{"s":"(P)-5a","x":446.8,"y":5.1},{"s":"(P)-5a","x":448.7,"y":4.2},{"s":"(P)-5a","x":451.3,"y":2.9},{"s":"(P)-5a","x":453.8,"y":3.5},{"s":"(P)-5a","x":456.4,"y":3.2},{"s":"(P)-5a","x":459,"y":2.9},{"s":"(P)-5a","x":461.4,"y":4.2},{"s":"(P)-5a","x":463.4,"y":4.9},{"s":"(P)-5a","x":465.3,"y":3.5},{"s":"(P)-5a","x":467.8,"y":5.2},{"s":"(P)-5a","x":469.8,"y":2.9},{"s":"(P)-5a","x":471.7,"y":2.5},{"s":"(P)-5a","x":474.3,"y":2.9},{"s":"(P)-5a","x":476.8,"y":1.9},{"s":"(P)-5a","x":478.7,"y":1.2},{"s":"(P)-5a","x":480.6,"y":0.2},{"s":"(P)-5a","x":482.5,"y":-1.5},{"s":"(P)-5a","x":484.4,"y":-0.5},{"s":"(P)-5a","x":487,"y":1.2},{"s":"(P)-5a","x":489.5,"y":-0.8},{"s":"(P)-5a","x":492.1,"y":0.2},{"s":"(P)-5a","x":494.5,"y":0.5},{"s":"(P)-5a","x":497,"y":0},{"s":"(P)-5a","x":500,"y":-0.7},{"s":"(P)-5a","x":503,"y":-0.3},{"s":"(P)-5a","x":506,"y":0.2},{"s":"(P)-5a","x":509,"y":-0.6},{"s":"(P)-5a","x":512,"y":0.3},{"s":"(P)-5a","x":515,"y":0.5},{"s":"(P)-5a","x":518,"y":-0.4},{"s":"(P)-5a","x":521,"y":-0.8},{"s":"(P)-5a","x":524,"y":-0.2},{"s":"(P)-5a","x":528,"y":0.2},{"s":"(P)-5a","x":532,"y":0},{"s":"(P)-5a","x":538,"y":0.1},{"s":"(P)-5a","x":545,"y":0},{"s":"(P)-5a","x":555,"y":0},{"s":"(P)-5a","x":570,"y":0},
{"s":"(M)-5a","x":420,"y":0},{"s":"(M)-5a","x":424,"y":0.1},{"s":"(M)-5a","x":428,"y":0.5},{"s":"(M)-5a","x":430,"y":0.9},{"s":"(M)-5a","x":432,"y":1},{"s":"(M)-5a","x":433.5,"y":0.5},{"s":"(M)-5a","x":435,"y":-0.5},{"s":"(M)-5a","x":436.6,"y":-2.4},{"s":"(M)-5a","x":438.5,"y":-4},{"s":"(M)-5a","x":441,"y":-4.4},{"s":"(M)-5a","x":443.6,"y":-5.4},{"s":"(M)-5a","x":445.5,"y":-5.7},{"s":"(M)-5a","x":447.4,"y":-4.4},{"s":"(M)-5a","x":450,"y":-4},{"s":"(M)-5a","x":451.9,"y":-2.7},{"s":"(M)-5a","x":453.8,"y":-3.1},{"s":"(M)-5a","x":456.4,"y":-2.4},{"s":"(M)-5a","x":459,"y":-3.4},{"s":"(M)-5a","x":461.4,"y":-1.7},{"s":"(M)-5a","x":462.7,"y":-4.4},{"s":"(M)-5a","x":464.7,"y":-3.7},{"s":"(M)-5a","x":466.6,"y":-5},{"s":"(M)-5a","x":467.8,"y":-5.4},{"s":"(M)-5a","x":469.8,"y":-3.4},{"s":"(M)-5a","x":471.7,"y":-2.7},{"s":"(M)-5a","x":474.2,"y":-3.1},{"s":"(M)-5a","x":476.1,"y":-1.7},{"s":"(M)-5a","x":478,"y":-2.1},{"s":"(M)-5a","x":480.6,"y":-0.8},{"s":"(M)-5a","x":482.5,"y":0.9},{"s":"(M)-5a","x":484.4,"y":-0.2},{"s":"(M)-5a","x":487,"y":0.1},{"s":"(M)-5a","x":490,"y":0.5},{"s":"(M)-5a","x":493,"y":1.2},{"s":"(M)-5a","x":495,"y":1.5},{"s":"(M)-5a","x":497,"y":0.8},{"s":"(M)-5a","x":499,"y":-0.2},{"s":"(M)-5a","x":502,"y":0.3},{"s":"(M)-5a","x":505,"y":-0.3},{"s":"(M)-5a","x":508,"y":0.6},{"s":"(M)-5a","x":511,"y":1},{"s":"(M)-5a","x":514,"y":0.2},{"s":"(M)-5a","x":517,"y":-0.6},{"s":"(M)-5a","x":520,"y":-1},{"s":"(M)-5a","x":523,"y":-0.6},{"s":"(M)-5a","x":526,"y":-0.2},{"s":"(M)-5a","x":530,"y":0.2},{"s":"(M)-5a","x":535,"y":0},{"s":"(M)-5a","x":545,"y":0},{"s":"(M)-5a","x":570,"y":0},
{"s":"(P)-6a","x":420,"y":0},{"s":"(P)-6a","x":423,"y":0.5},{"s":"(P)-6a","x":426,"y":0.2},{"s":"(P)-6a","x":428,"y":0.8},{"s":"(P)-6a","x":430,"y":1.9},{"s":"(P)-6a","x":432,"y":3.2},{"s":"(P)-6a","x":434.6,"y":3.5},{"s":"(P)-6a","x":437.9,"y":2.5},{"s":"(P)-6a","x":440.4,"y":3.2},{"s":"(P)-6a","x":443,"y":3.6},{"s":"(P)-6a","x":445.5,"y":4.5},{"s":"(P)-6a","x":448,"y":4.2},{"s":"(P)-6a","x":450.6,"y":3.2},{"s":"(P)-6a","x":453.2,"y":2.9},{"s":"(P)-6a","x":456.4,"y":2.2},{"s":"(P)-6a","x":459,"y":1.9},{"s":"(P)-6a","x":461.5,"y":2.2},{"s":"(P)-6a","x":464,"y":1.9},{"s":"(P)-6a","x":466.5,"y":1.6},{"s":"(P)-6a","x":469.1,"y":1.9},{"s":"(P)-6a","x":471.7,"y":1.2},{"s":"(P)-6a","x":475.5,"y":0.9},{"s":"(P)-6a","x":478,"y":0.5},{"s":"(P)-6a","x":480.6,"y":0.4},{"s":"(P)-6a","x":483.1,"y":1.2},{"s":"(P)-6a","x":487,"y":1.5},{"s":"(P)-6a","x":490,"y":0.9},{"s":"(P)-6a","x":494.6,"y":0.5},{"s":"(P)-6a","x":500,"y":0.6},{"s":"(P)-6a","x":505,"y":0.4},{"s":"(P)-6a","x":510,"y":0.3},{"s":"(P)-6a","x":520,"y":0.3},{"s":"(P)-6a","x":530,"y":0.2},{"s":"(P)-6a","x":545,"y":0.1},{"s":"(P)-6a","x":570,"y":0},
{"s":"(M)-6a","x":420,"y":0},{"s":"(M)-6a","x":421.5,"y":-0.8},{"s":"(M)-6a","x":423.2,"y":-1.5},{"s":"(M)-6a","x":425.7,"y":-2.4},{"s":"(M)-6a","x":427.7,"y":-3.1},{"s":"(M)-6a","x":429.6,"y":-2.4},{"s":"(M)-6a","x":431.5,"y":-3.4},{"s":"(M)-6a","x":433.4,"y":-4.4},{"s":"(M)-6a","x":436,"y":-5.4},{"s":"(M)-6a","x":438.5,"y":-5},{"s":"(M)-6a","x":441,"y":-5.7},{"s":"(M)-6a","x":443.6,"y":-5.4},{"s":"(M)-6a","x":445.5,"y":-5.9},{"s":"(M)-6a","x":448,"y":-4.4},{"s":"(M)-6a","x":450,"y":-3.7},{"s":"(M)-6a","x":452.5,"y":-3.4},{"s":"(M)-6a","x":455.1,"y":-3.7},{"s":"(M)-6a","x":457.6,"y":-1.7},{"s":"(M)-6a","x":460.2,"y":-2.4},{"s":"(M)-6a","x":462.7,"y":-1.5},{"s":"(M)-6a","x":465.3,"y":-2.4},{"s":"(M)-6a","x":467.8,"y":-3.1},{"s":"(M)-6a","x":470.4,"y":-2.1},{"s":"(M)-6a","x":472.9,"y":-0.8},{"s":"(M)-6a","x":475.5,"y":-1.5},{"s":"(M)-6a","x":478,"y":-0.8},{"s":"(M)-6a","x":480.6,"y":-0.2},{"s":"(M)-6a","x":483,"y":0},{"s":"(M)-6a","x":487,"y":-0.5},{"s":"(M)-6a","x":490,"y":-0.2},{"s":"(M)-6a","x":495,"y":-0.4},{"s":"(M)-6a","x":500,"y":-0.3},{"s":"(M)-6a","x":510,"y":-0.2},{"s":"(M)-6a","x":520,"y":-0.2},{"s":"(M)-6a","x":535,"y":-0.1},{"s":"(M)-6a","x":570,"y":0}
]
},
"hconcat": [
{
  "width": 395, "height": 303,
  "title": {"text": "(A)", "anchor": "start", "frame": "bounds", "fontSize": 19, "fontWeight": "bold", "font": "Liberation Sans", "color": "black", "baseline": "bottom", "offset": -47},
  "layer": [
    {"data": {"values": [{}]}, "mark": {"type": "rule", "strokeDash": [5, 4], "strokeWidth": 1.5, "color": "black"},
     "encoding": {"y": {"datum": 0, "type": "quantitative", "title": "CD / mdeg", "scale": {"domain": [-120, 120], "nice": false},
       "axis": {"values": [-120,-115,-110,-105,-100,-95,-90,-85,-80,-75,-70,-65,-60,-55,-50,-45,-40,-35,-30,-25,-20,-15,-10,-5,0,5,10,15,20,25,30,35,40,45,50,55,60,65,70,75,80,85,90,95,100,105,110,115,120], "labelExpr": "datum.value % 30 == 0 ? datum.label : ''", "labelOverlap": false, "labelFontSize": 21, "labelPadding": 2, "titlePadding": 13, "titleY": 158}}}},
    {"data": {"name": "cd"},
     "mark": {"type": "line", "interpolate": "monotone", "strokeWidth": 2, "clip": true},
     "encoding": {
      "x": {"field": "x", "type": "quantitative", "title": "Wavelength / nm", "scale": {"domain": [240, 470], "nice": false, "zero": false},
            "axis": {"values": [240,250,260,270,280,290,300,310,320,330,340,350,360,370,380,390,400,410,420,430,440,450,460,470], "labelExpr": "datum.value % 30 == 0 ? datum.label : ''", "labelOverlap": false, "labelFontSize": 20, "labelPadding": 4, "titlePadding": 16, "titleX": 180}},
      "y": {"field": "y", "type": "quantitative", "title": "CD / mdeg", "scale": {"domain": [-120, 120], "nice": false},
            "axis": {"values": [-120,-115,-110,-105,-100,-95,-90,-85,-80,-75,-70,-65,-60,-55,-50,-45,-40,-35,-30,-25,-20,-15,-10,-5,0,5,10,15,20,25,30,35,40,45,50,55,60,65,70,75,80,85,90,95,100,105,110,115,120], "labelExpr": "datum.value % 30 == 0 ? datum.label : ''", "labelOverlap": false, "labelFontSize": 21, "labelPadding": 2, "titlePadding": 13, "titleY": 158}},
      "color": {"field": "s", "type": "nominal", "legend": null, "scale": {"domain": ["(P)-5a","(M)-5a","(P)-5b","(M)-5b","(P)-6a","(M)-6a","(P)-6b","(M)-6b"], "range": ["#000000","#000000","#0000ff","#0000ff","#00b050","#00b050","#ff0000","#ff0000"]}},
      "strokeDash": {"field": "s", "type": "nominal", "legend": null, "scale": {"domain": ["(P)-5a","(M)-5a","(P)-5b","(M)-5b","(P)-6a","(M)-6a","(P)-6b","(M)-6b"], "range": [[8,4,2,4],[1,0],[6,4],[1,0],[6,4],[1,0],[8,4,2,4],[1,0]]}}
     }}
  ]
},
{
  "width": 392, "height": 303,
  "title": {"text": "(B)", "anchor": "start", "frame": "bounds", "fontSize": 19, "fontWeight": "bold", "font": "Liberation Sans", "color": "black", "baseline": "bottom", "offset": -48},
  "layer": [
    {"data": {"values": [{}]}, "mark": {"type": "rule", "strokeDash": [5, 4], "strokeWidth": 1.5, "color": "black"},
     "encoding": {"y": {"datum": 0, "type": "quantitative", "title": "CPL / mdeg", "scale": {"domain": [-30, 30], "nice": false},
       "axis": {"values": [-30,-25,-20,-15,-10,-5,0,5,10,15,20,25,30], "labelExpr": "datum.value % 10 == 0 ? datum.label : ''", "labelOverlap": false, "labelFontSize": 18, "labelPadding": 12, "titlePadding": 14, "titleY": 164}}}},
    {"data": {"name": "cpl"},
     "mark": {"type": "line", "strokeWidth": 1.6, "clip": true},
     "encoding": {
      "x": {"field": "x", "type": "quantitative", "title": "Wavelength / nm", "scale": {"domain": [420, 570], "nice": false, "zero": false},
            "axis": {"values": [420,430,440,450,460,470,480,490,500,510,520,530,540,550,560,570], "labelExpr": "datum.value % 30 == 0 ? datum.label : ''", "labelOverlap": false, "labelFontSize": 18, "labelPadding": 4, "titlePadding": 18, "titleX": 180}},
      "y": {"field": "y", "type": "quantitative", "title": "CPL / mdeg", "scale": {"domain": [-30, 30], "nice": false},
            "axis": {"values": [-30,-25,-20,-15,-10,-5,0,5,10,15,20,25,30], "labelExpr": "datum.value % 10 == 0 ? datum.label : ''", "labelOverlap": false, "labelFontSize": 18, "labelPadding": 12, "titlePadding": 14, "titleY": 164}},
      "color": {"field": "s", "type": "nominal",
        "scale": {"domain": ["(P)-5a","(M)-5a","(P)-5b","(M)-5b","(P)-6a","(M)-6a","(P)-6b","(M)-6b"], "range": ["#000000","#000000","#0000ff","#0000ff","#00b050","#00b050","#ff0000","#ff0000"]},
        "legend": {"title": null, "orient": "top-right", "offset": 6, "columns": 2, "direction": "horizontal", "fillColor": "white", "strokeColor": "black", "padding": 5, "labelFontSize": 18, "labelFont": "Liberation Sans", "labelColor": "black", "symbolType": "stroke", "symbolStrokeWidth": 2, "symbolSize": 300, "columnPadding": 12, "rowPadding": 3.5, "labelOffset": 5,
          "encode": {"labels": {"update": {"fill": {"signal": "indexof(datum.value,'5b')>=0 ? '#0000ff' : indexof(datum.value,'6a')>=0 ? '#00b050' : indexof(datum.value,'6b')>=0 ? '#ff0000' : '#000000'"}}}}}},
      "strokeDash": {"field": "s", "type": "nominal",
        "scale": {"domain": ["(P)-5a","(M)-5a","(P)-5b","(M)-5b","(P)-6a","(M)-6a","(P)-6b","(M)-6b"], "range": [[4,3],[1,0],[4,3],[1,0],[4,3],[1,0],[4,3],[1,0]]},
        "legend": {"title": null, "orient": "top-right", "offset": 6, "columns": 2, "direction": "horizontal"}}
     }}
  ]
}
],
"resolve": {"scale": {"color": "independent", "strokeDash": "independent"}, "legend": {"color": "independent", "strokeDash": "independent"}}
}
